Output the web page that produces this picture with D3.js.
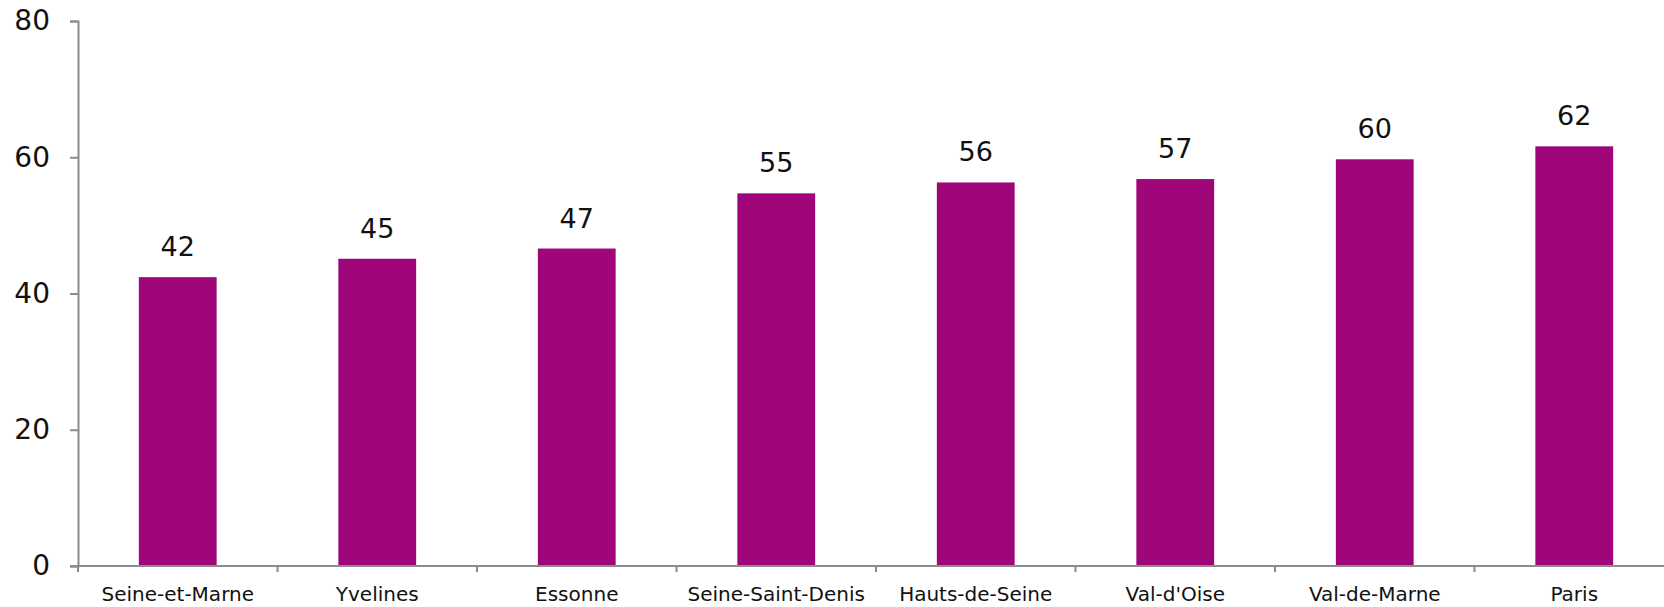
<!DOCTYPE html>
<html>
<head>
<meta charset="utf-8">
<script src="https://cdn.jsdelivr.net/npm/d3@7"></script>
<style>
  body { margin: 0; background: #fff; }
  svg { display: block; }
</style>
</head>
<body>
<div id="chart"></div>
<script>
// departements and their values
const departements = ["Seine-et-Marne", "Yvelines", "Essonne", "Seine-Saint-Denis",
  "Hauts-de-Seine", "Val-d'Oise", "Val-de-Marne", "Paris"];
const valeurs = [42.4, 45.1, 46.6, 54.7, 56.3, 56.8, 59.7, 61.6];
const yTicks = [0, 20, 40, 60, 80];

const width = 1664, height = 607;
const marginLeft = 78, plotTop = 21, plotBottom = 566;
const bandW = 199.5;

const svg = d3.select('#chart').append('svg')
    .attr('width', width)
    .attr('height', height);

const x = d3.scaleBand()
    .domain(departements)
    .range([marginLeft, marginLeft + bandW * departements.length])
    .paddingInner(0.61)
    .paddingOuter(0.305);

const y = d3.scaleLinear()
    .domain([0, 80])
    .range([plotBottom, plotTop]);

// bars
svg.append('g')
    .selectAll('rect')
    .data(valeurs)
    .enter()
    .append('rect')
    .attr('x', (d, i) => x(departements[i]))
    .attr('y', d => y(d))
    .attr('width', x.bandwidth())
    .attr('height', d => y(0) - y(d))
    .attr('fill', '#9e0679');

// value labels
svg.append('g')
    .selectAll('text')
    .data(valeurs)
    .enter()
    .append('text')
    .attr('x', (d, i) => x(departements[i]) + x.bandwidth() / 2)
    .attr('y', d => y(d) - 21)
    .attr('text-anchor', 'middle')
    .style('font-family', 'DejaVu Sans')
    .style('font-size', '27px')
    .style('fill', '#111')
    .text(d => d3.format('.0f')(d));

// y axis
const yAxis = svg.append('g')
    .attr('transform', 'translate(' + marginLeft + ',0)')
    .call(d3.axisLeft(y).tickValues(yTicks).tickSize(8).tickPadding(20));

// x axis, ticks on the category boundaries
const xLine = d3.scaleLinear()
    .domain([0, departements.length])
    .range([marginLeft, marginLeft + bandW * departements.length]);

const xAxis = svg.append('g')
    .attr('transform', 'translate(0,' + plotBottom + ')');

xAxis.append('line')
    .attr('x1', marginLeft - 8)
    .attr('x2', width)
    .attr('y1', 0)
    .attr('y2', 0);

xAxis.selectAll('line.tick')
    .data(d3.range(0, departements.length + 1))
    .enter()
    .append('line')
    .attr('class', 'tick')
    .attr('x1', d => xLine(d))
    .attr('x2', d => xLine(d))
    .attr('y1', 0)
    .attr('y2', 6);

xAxis.selectAll('text')
    .data(departements)
    .enter()
    .append('text')
    .attr('x', d => x(d) + x.bandwidth() / 2)
    .attr('y', 35)
    .attr('text-anchor', 'middle')
    .style('font-family', 'DejaVu Sans')
    .style('font-size', '20px')
    .style('fill', '#111')
    .text(d => d);

xAxis.selectAll('line').attr('stroke', '#8c8c8c').attr('stroke-width', 2);
yAxis.select('.domain').attr('stroke', '#8c8c8c').attr('stroke-width', 2);
yAxis.selectAll('.tick line').attr('stroke', '#8c8c8c').attr('stroke-width', 2);
yAxis.selectAll('.tick text')
    .style('font-family', 'DejaVu Sans')
    .style('font-size', '28px')
    .style('fill', '#111');
</script>
</body>
</html>
